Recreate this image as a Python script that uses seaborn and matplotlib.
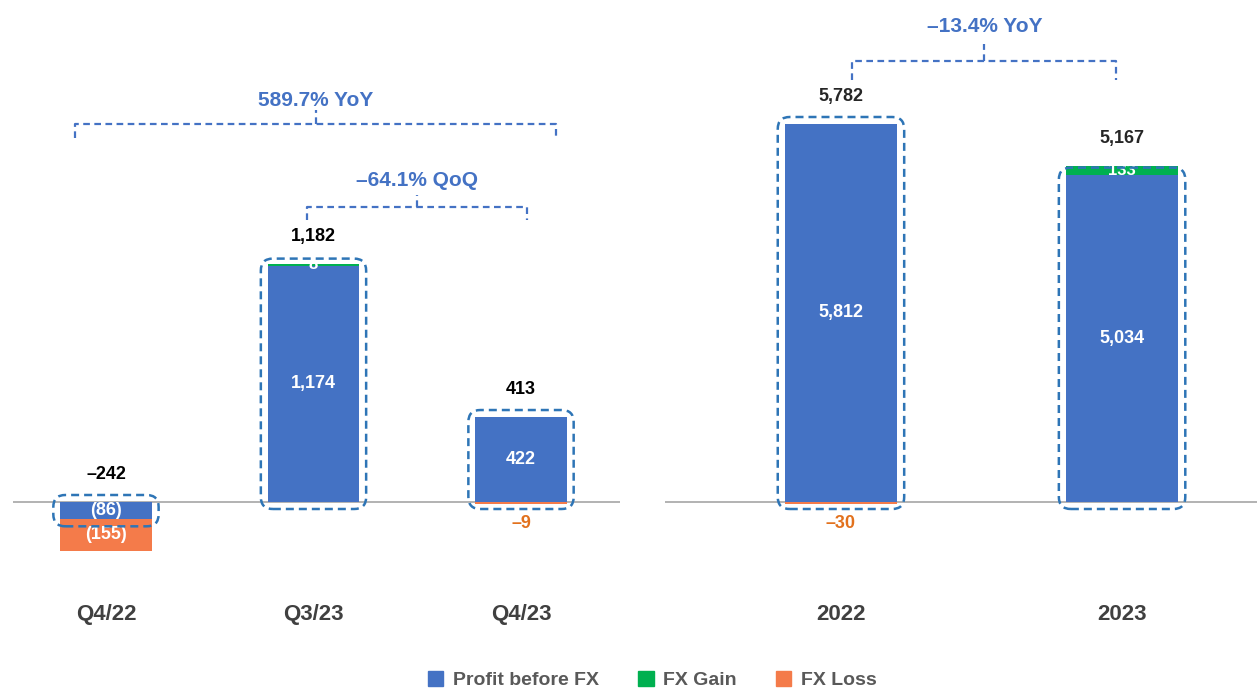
import numpy as np
import pandas as pd
import matplotlib
matplotlib.use("Agg")
import matplotlib.pyplot as plt
import seaborn as sns
from matplotlib.patches import FancyBboxPatch, Patch
from matplotlib.transforms import IdentityTransform, blended_transform_factory

# Quarterly figures
quarters = ["Q4/22", "Q3/23", "Q4/23"]
q_profit = [-86, 1174, 422]
q_gain = [0, 8, 0]
q_loss = [-155, 0, -9]
q_total = [-242, 1182, 413]

# Full-year figures
years = ["2022", "2023"]
y_profit = [5812, 5034]
y_gain = [0, 133]
y_loss = [-30, 0]
y_total = [5782, 5167]

# Change callouts
q_yoy = "589.7% YoY"
q_qoq = "\u201364.1% QoQ"
y_yoy = "\u201313.4% YoY"

BLUE = "#4472C4"
GREEN = "#00B050"
ORANGE = "#F47B4A"
ORANGE_TXT = "#E2711D"
BOX = "#2E75B6"
BRACKET = "#4472C4"
CAT_TXT = "#404040"

sns.set_theme(style="white")
plt.rcParams["font.family"] = ["Liberation Sans", "DejaVu Sans"]

W, H = 1257, 690
fig = plt.figure(figsize=(W / 100, H / 100), dpi=100)

AX_TOP, AX_BOT, BASE = 10, 596, 502
ax_l = fig.add_axes([13 / W, (H - AX_BOT) / H, (620 - 13) / W, (AX_BOT - AX_TOP) / H])
ax_r = fig.add_axes([665 / W, (H - AX_BOT) / H, (1257 - 665) / W, (AX_BOT - AX_TOP) / H])


def fmt(v):
    return f"{v:,}".replace("-", "\u2013")


def draw_panel(ax, cats, profit, gain, loss, total, width, ppu, xlim, total_color):
    df = pd.DataFrame({"cat": cats, "profit": profit, "gain": gain, "loss": loss})
    profit = np.array(profit)
    gain = np.array(gain)
    loss = np.array(loss)
    gain_base = np.maximum(profit, 0)
    loss_base = np.minimum(profit, 0)
    common = dict(order=cats, width=width, errorbar=None, saturation=1,
                  linewidth=0, ax=ax, zorder=2)
    sns.barplot(data=df, x="cat", y="profit", color=BLUE, **common)
    sns.barplot(data=df, x="cat", y="gain", color=GREEN, bottom=gain_base, **common)
    sns.barplot(data=df, x="cat", y="loss", color=ORANGE, bottom=loss_base, **common)

    ax.set_xlim(*xlim)
    ax.set_ylim(-(AX_BOT - BASE) / ppu, (BASE - AX_TOP) / ppu)
    ax.axhline(0, color="#A6A6A6", lw=1.2, zorder=1)
    for s in ax.spines.values():
        s.set_visible(False)
    ax.set_yticks([])
    ax.set_xlabel("")
    ax.set_ylabel("")
    ax.tick_params(axis="x", length=0, pad=6, labelsize=16, labelcolor=CAT_TXT)
    for lbl in ax.get_xticklabels():
        lbl.set_fontweight("bold")

    for i in range(len(cats)):
        p, g, l = profit[i], gain[i], loss[i]
        # profit value inside the blue bar
        txt = fmt(p) if p >= 0 else f"({abs(p):,})"
        ax.text(i, p / 2, txt, ha="center", va="center", color="white",
                fontsize=13, fontweight="bold", zorder=5)
        if g > 0:
            ax.text(i, gain_base[i] + g / 2, fmt(g), ha="center", va="center",
                    color="white", fontsize=12, fontweight="bold", zorder=5)
        if l < 0:
            if abs(l) * ppu > 20:
                ax.text(i, loss_base[i] + l / 2, f"({abs(l):,})", ha="center",
                        va="center", color="white", fontsize=13,
                        fontweight="bold", zorder=5)
            else:
                ax.annotate(fmt(l), (i, loss_base[i] + l), xytext=(0, -14),
                            textcoords="offset points", ha="center", va="center",
                            color=ORANGE_TXT, fontsize=13, fontweight="bold")
        top = max(p + g, 0)
        ax.annotate(fmt(total[i]), (i, top), xytext=(0, 19.5),
                    textcoords="offset points", ha="center", va="center",
                    color=total_color, fontsize=13, fontweight="bold")

        # dashed rounded outline around the profit bar
        (x0, y0), (x1, y1) = ax.transData.transform(
            [(i - width / 2, min(p, 0)), (i + width / 2, max(p, 0))])
        padx, pady = 7, 7
        box = FancyBboxPatch((x0 - padx, y0 - pady), (x1 - x0) + 2 * padx,
                             (y1 - y0) + 2 * pady,
                             boxstyle="round,pad=0,rounding_size=12",
                             transform=IdentityTransform(), fill=False,
                             ec=BOX, lw=1.8, ls=(0, (3.2, 2.0)), zorder=6)
        ax.add_artist(box)


def bracket(ax, x0, x1, xc, y_line, y_end, y_tick, y_text, label):
    tr = blended_transform_factory(ax.transData, ax.transAxes)
    kw = dict(transform=tr, color=BRACKET, lw=1.6, ls=(0, (3, 2)), clip_on=False)
    ax.plot([x0, x0, x1, x1], [y_end, y_line, y_line, y_end], **kw)
    ax.plot([xc, xc], [y_line, y_tick], **kw)
    ax.text(xc, y_text, label, transform=tr, ha="center", va="center",
            color=BRACKET, fontsize=15, fontweight="bold")


def ay(px):
    return (AX_BOT - px) / (AX_BOT - AX_TOP)


draw_panel(ax_l, quarters, q_profit, q_gain, q_loss, q_total, 0.44,
           238 / 1182, (-0.448, 2.477), "black")
draw_panel(ax_r, years, y_profit, y_gain, y_loss, y_total, 0.40,
           378 / 5812, (-0.626, 1.48), "#262626")

bracket(ax_l, -0.15, 2.17, 1.01, ay(124), ay(138), ay(110), ay(100), q_yoy)
bracket(ax_l, 0.97, 2.03, 1.50, ay(207), ay(220), ay(195), ay(180), q_qoq)
bracket(ax_r, 0.04, 0.98, 0.51, ay(61), ay(80), ay(44), ay(26), y_yoy)

handles = [Patch(color=BLUE, label="Profit before FX"),
           Patch(color=GREEN, label="FX Gain"),
           Patch(color=ORANGE, label="FX Loss")]
fig.legend(handles=handles, loc="center", bbox_to_anchor=(0.519, 0.014),
           ncol=3, frameon=False, handlelength=0.8, handleheight=0.8,
           handletextpad=0.5, columnspacing=2.0, labelcolor="#595959",
           prop=dict(size=14, weight="bold"))

fig.savefig("out.png", dpi=100)
